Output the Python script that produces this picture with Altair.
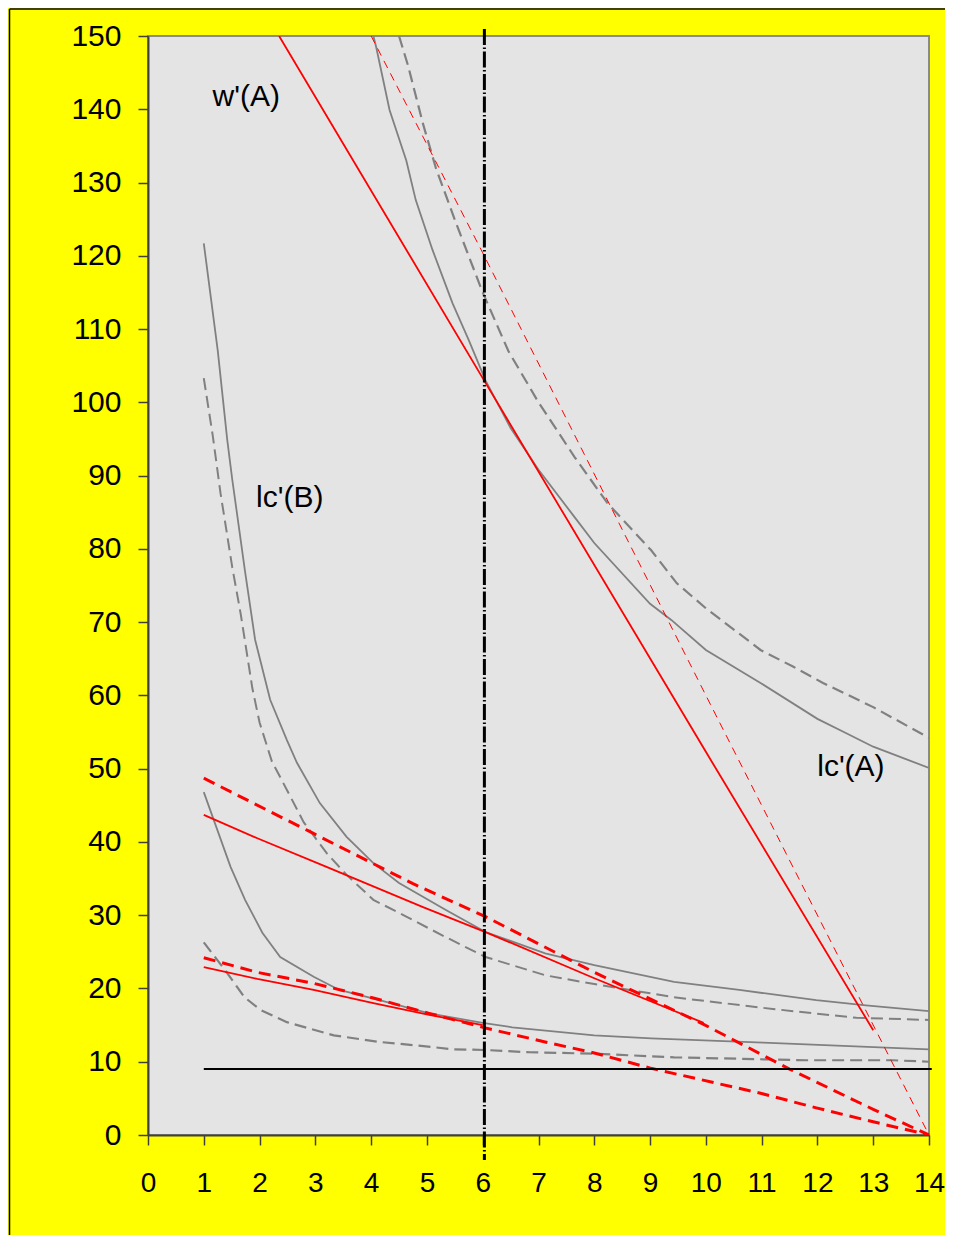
import altair as alt
import pandas as pd

# ---------------- data ----------------
x_ticks = list(range(0, 15))
y_ticks = list(range(0, 151, 10))

# w'(A): red solid straight line
wA_x = [2.35, 6.0, 10.0, 13.0]
wA_y = [150.0, 103.3, 52.3, 14.3]

# w'(A) alternative: red thin dashed
wA2_x = [4.0, 6.0, 10.0, 14.0]
wA2_y = [150.0, 120.4, 60.0, 0.0]

# lc'(A): grey solid
lcA_x = [4.04, 4.09, 4.33, 4.63, 4.8, 5.1, 5.46, 5.75, 6.05, 6.5, 7.0, 7.65, 8.0, 9.0, 9.38, 10.0, 10.98, 12.0, 12.5, 13.0, 14.0]
lcA_y = [150.0, 148.5, 139.9, 133.0, 127.6, 120.8, 113.5, 108.5, 103.0, 96.5, 90.8, 84.3, 80.8, 72.5, 70.3, 66.2, 61.7, 56.8, 54.9, 53.0, 50.1]

# lc'(A) alternative: grey dashed
lcA2_x = [4.5, 4.66, 4.93, 5.16, 5.52, 6.0, 6.46, 7.0, 7.65, 8.24, 9.02, 9.48, 10.0, 10.98, 11.57, 12.1, 13.0, 14.0]
lcA2_y = [150.0, 146.0, 138.0, 132.0, 124.5, 115.0, 107.0, 100.0, 92.5, 86.2, 79.8, 75.3, 71.9, 66.2, 63.9, 61.7, 58.4, 54.2]

# lc'(B): grey solid
lcB_x = [1.0, 1.25, 1.42, 1.51, 1.74, 1.92, 2.19, 2.49, 2.67, 3.08, 3.56, 4.04, 4.5, 5.34, 6.05, 7.12, 8.0, 9.43, 10.6, 11.98, 12.87, 14.0]
lcB_y = [121.7, 107.1, 94.9, 89.5, 76.9, 67.6, 59.4, 53.9, 50.8, 45.3, 40.7, 37.1, 34.4, 30.7, 27.7, 24.8, 23.2, 20.9, 19.8, 18.4, 17.7, 16.9]

# lc'(B) alternative: grey dashed
lcB2_x = [1.0, 1.16, 1.3, 1.51, 1.66, 1.87, 2.0, 2.22, 2.49, 2.79, 3.2, 3.56, 4.04, 4.63, 5.34, 6.05, 7.12, 8.0, 9.43, 11.2, 12.7, 14.0]
lcB2_y = [103.3, 95.5, 87.6, 77.5, 71.2, 61.0, 56.3, 51.0, 47.1, 42.7, 38.5, 35.5, 32.1, 29.8, 27.0, 24.3, 21.8, 20.6, 18.8, 17.2, 16.0, 15.7]

# lower grey solid
lowS_x = [1.0, 1.48, 1.74, 2.05, 2.37, 2.97, 3.43, 4.15, 5.04, 6.0, 6.53, 8.0, 9.02, 11.03, 14.0]
lowS_y = [46.8, 36.6, 32.1, 27.6, 24.3, 21.6, 19.8, 18.4, 16.6, 15.3, 14.7, 13.6, 13.2, 12.6, 11.7]

# lower grey dashed
lowD_x = [1.0, 1.42, 1.73, 2.01, 2.49, 3.33, 4.15, 4.98, 5.46, 6.05, 6.82, 8.0, 9.43, 11.8, 13.35, 14.0]
lowD_y = [26.3, 22.1, 18.8, 17.1, 15.4, 13.6, 12.7, 12.1, 11.7, 11.6, 11.3, 11.1, 10.6, 10.2, 10.2, 10.0]

# upper red solid (B)
rS1_x = [1.0, 1.96, 3.2, 4.93, 6.05, 8.0, 9.96]
rS1_y = [43.7, 40.5, 36.6, 31.1, 27.7, 21.4, 15.3]

# upper red dashed
rD1_x = [1.0, 2.85, 4.75, 6.05, 8.0, 9.96, 11.5, 13.0, 14.0]
rD1_y = [48.7, 41.6, 34.3, 29.8, 22.2, 15.1, 9.0, 3.5, 0.0]

# lower red solid
rS2_x = [1.0, 1.96, 2.97, 4.04, 5.04, 6.0]
rS2_y = [22.9, 21.3, 19.8, 18.0, 16.4, 15.0]

# lower red dashed
rD2_x = [1.0, 1.96, 2.97, 4.04, 5.04, 6.05, 7.12, 8.0, 9.02, 10.98, 11.98, 13.0, 14.0]
rD2_y = [24.2, 22.2, 20.7, 18.7, 16.6, 14.6, 12.7, 11.2, 9.1, 5.7, 3.7, 1.8, 0.0]

# reference lines
hline_y = [9.0]
hline_x = [1.0]
hline_x2 = [14.05]
vline_x = [6.03]

# annotations
label_text = ["w'(A)", "lc'(B)", "lc'(A)"]
label_x = [1.76, 2.54, 12.6]
label_y = [141.7, 87.0, 50.2]

# ---------------- chart ----------------
W, H = 781, 1099
PAD_L, PAD_T, PAD_R, PAD_B = 140, 28, 16, 100
FONT = "Liberation Sans, Arial, sans-serif"

xs = alt.Scale(domain=[0, 14], nice=False, zero=False)
ys = alt.Scale(domain=[0, 150], nice=False)

xaxis = alt.Axis(values=x_ticks, format="d", title=None, grid=False, tickSize=10,
                 labelPadding=24, labelFontSize=28, labelFont=FONT, labelColor="black",
                 domainColor="#404040", tickColor="#404040", domainWidth=2, tickWidth=1.5,
                 labelFlush=False, labelOverlap=False)
yaxis = alt.Axis(values=y_ticks, format="d", title=None, grid=False, tickSize=10,
                 labelPadding=17, labelFontSize=30, labelFont=FONT, labelColor="black",
                 domainColor="#404040", tickColor="#404040", domainWidth=2, tickWidth=1.5,
                 labelFlush=False, labelOverlap=False)


def frame(name, xv, yv):
    return pd.DataFrame({"series": name, "x": xv, "y": yv})


def line(data, color, width, dash=None):
    kw = dict(color=color, strokeWidth=width, clip=True)
    if dash is not None:
        kw["strokeDash"] = dash
    return alt.Chart(data).mark_line(**kw).encode(
        x=alt.X("x:Q", scale=xs, axis=xaxis),
        y=alt.Y("y:Q", scale=ys, axis=yaxis),
    )

GREY = "#808080"
RED = "#ff0000"

layers = [
    line(frame("lcA", lcA_x, lcA_y), GREY, 1.8),
    line(frame("lcA2", lcA2_x, lcA2_y), GREY, 2.2, [12, 6]),
    line(frame("lcB", lcB_x, lcB_y), GREY, 1.8),
    line(frame("lcB2", lcB2_x, lcB2_y), GREY, 2.0, [12, 6]),
    line(frame("lowS", lowS_x, lowS_y), GREY, 1.8),
    line(frame("lowD", lowD_x, lowD_y), GREY, 2.2, [12, 6]),
    line(frame("wA", wA_x, wA_y), RED, 1.8),
    line(frame("wA2", wA2_x, wA2_y), RED, 1.0, [8, 6]),
    line(frame("rS1", rS1_x, rS1_y), RED, 1.8),
    line(frame("rD1", rD1_x, rD1_y), RED, 3.0, [12, 7]),
    line(frame("rS2", rS2_x, rS2_y), RED, 1.8),
    line(frame("rD2", rD2_x, rD2_y), RED, 3.0, [12, 7]),
]

hl = alt.Chart(pd.DataFrame({"x": hline_x, "x2": hline_x2, "y": hline_y})).mark_rule(
    color="black", strokeWidth=2).encode(
    x=alt.X("x:Q", scale=xs, axis=xaxis), x2="x2:Q",
    y=alt.Y("y:Q", scale=ys, axis=yaxis))

txt = alt.Chart(pd.DataFrame({"t": label_text, "x": label_x, "y": label_y})).mark_text(
    font=FONT, fontSize=30, color="black", align="center", baseline="middle").encode(
    x=alt.X("x:Q", scale=xs, axis=xaxis), y=alt.Y("y:Q", scale=ys, axis=yaxis), text="t:N")

vl = alt.Chart(pd.DataFrame({"x": vline_x})).mark_rule(
    color="black", strokeWidth=3, strokeDash=[16, 2.5, 1.5, 2.5]).encode(
    x=alt.X("x:Q", scale=xs, axis=xaxis), y=alt.value(-7), y2=alt.value(H + 25))

one = pd.DataFrame({"a": [0]})
border_left = alt.Chart(one).mark_rule(color="black", strokeWidth=1.5).encode(
    x=alt.value(-(PAD_L - 1.5)), y=alt.value(-(PAD_T - 1)), y2=alt.value(H + PAD_B + 2))
border_top = alt.Chart(one).mark_rule(color="black", strokeWidth=1.5).encode(
    x=alt.value(-(PAD_L - 1.5)), x2=alt.value(W + PAD_R + 2), y=alt.value(-(PAD_T - 1)))

chart = alt.layer(*layers, hl, txt, vl, border_left, border_top).properties(
    width=W, height=H,
    padding={"left": PAD_L, "top": PAD_T, "right": PAD_R, "bottom": PAD_B},
    autosize=alt.AutoSizeParams(type="none"),
    background="#ffff00",
).configure_view(fill="#e4e4e4", stroke="#8a8a8a", strokeWidth=2)

chart.save("out.html", embed_options={"renderer": "svg", "actions": False})
